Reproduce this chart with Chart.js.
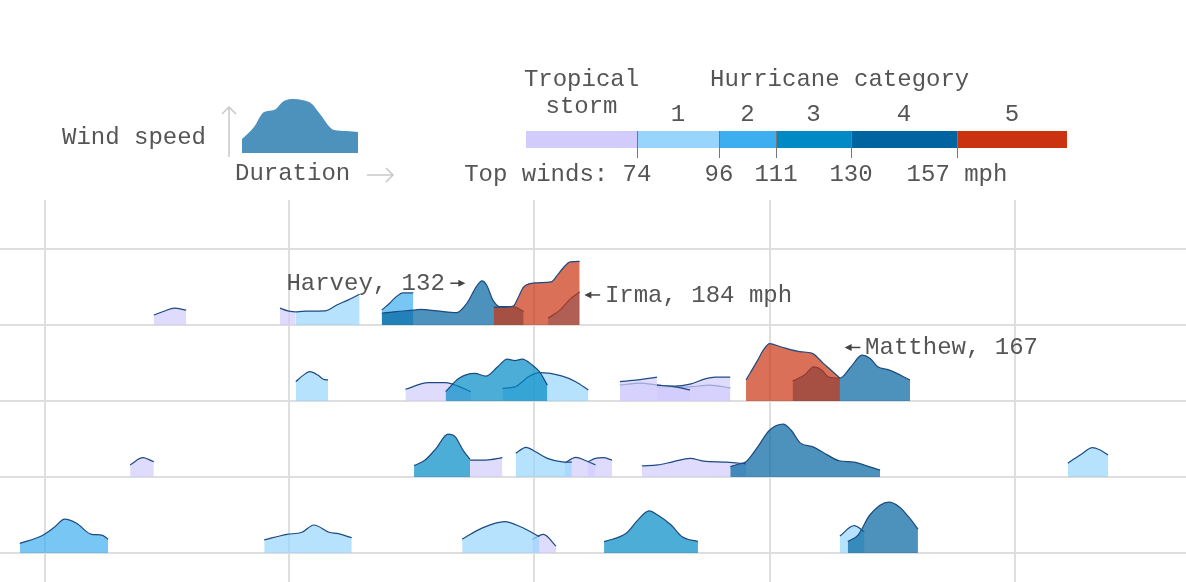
<!DOCTYPE html>
<html><head><meta charset="utf-8">
<script src="https://cdn.jsdelivr.net/npm/chart.js@4"></script>
<style>
html,body{margin:0;padding:0;background:#fff;}
#wrap{position:relative;width:1186px;height:582px;overflow:hidden;font-family:"Liberation Mono","DejaVu Sans Mono",monospace;color:#555;}
.t{position:absolute;font-size:24px;line-height:24px;white-space:nowrap;}
.c{transform:translateX(-50%);}
#main{position:absolute;left:0;top:0;}
#icon{position:absolute;left:242px;top:95px;}
.seg{position:absolute;top:131px;height:17px;}
.tick{position:absolute;top:131px;width:1px;height:27px;background:#777;}
#arrows{position:absolute;left:0;top:0;}
</style></head>
<body>
<div id="wrap">
  <canvas id="main" width="1186" height="582"></canvas>
  <canvas id="icon" width="116" height="58"></canvas>
  <svg id="arrows" width="420" height="200">
    <g stroke="#c8c8c8" stroke-width="1.5" fill="none">
      <line x1="229" y1="107" x2="229" y2="157"/>
      <polyline points="222,114 229,107 236,114"/>
      <line x1="367" y1="175" x2="393" y2="175"/>
      <polyline points="386,168 393,175 386,182"/>
    </g>
  </svg>
  <div class="t" style="left:62px;top:125.6px">Wind speed</div>
  <div class="t" style="left:235px;top:161.6px">Duration</div>
  <div class="t" style="left:710px;top:67.6px">Hurricane category</div>
  <div id="legend"></div>
</div>
<script>
// ---- Data -------------------------------------------------------------
// x: days since July 1 ; y: wind speed (mph)
const categoryNames = ['Tropical storm', '1', '2', '3', '4', '5'];
const categoryColors = ['#d2ccfc', '#97d5fd', '#3daef0', '#008ac5', '#0064a0', '#cb3310'];
const topWindLabels = ['74', '96', '111', '130', '157 mph'];
const monthTicks = [0, 31, 62, 92, 123];   // Jul 1, Aug 1, Sep 1, Oct 1, Nov 1
const years = ['2017', '2016', '2015', '2014'];

const storms2017 = [
  { name: 'Don', cat: 0, pts: [[13.8,29],[15.1,40],[16.4,49],[17.9,43]] },
  { name: 'Emily', cat: 0, pts: [[29.8,49],[30.8,41],[31.8,38]] },
  { name: 'Franklin', cat: 1, pts: [[31.8,38],[33.1,40],[35.5,41],[37.0,58],[38.4,72],[39.9,89]] },
  { name: 'Gert', cat: 2, pts: [[42.7,43],[43.7,63],[44.5,81],[45.4,93],[46.7,93]] },
  { name: 'Harvey', cat: 4, pts: [[42.7,34],[44.5,39],[46.7,43],[47.6,45],[49.7,41],[52.2,36],[53.5,63],[54.7,111],[55.4,128],[56.0,116],[56.8,72],[57.7,53],[59.4,53],[60.7,39]] },
  { name: 'Jose', cat: 2, pts: [[63.8,20],[65.3,43],[66.6,75],[67.8,96]] },
  { name: 'Irma', cat: 5, pts: [[56.9,52],[58.3,52],[59.4,55],[60.1,84],[60.7,110],[62.3,122],[64.2,125],[64.9,142],[65.7,165],[66.6,183],[67.8,184]] }
];
const storms2016 = [
  { name: 'Earl', cat: 1, pts: [[31.8,56],[32.6,72],[33.6,85],[34.6,75],[35.3,63],[35.9,61]] },
  { name: 'Fiona', cat: 0, pts: [[45.7,34],[48.6,53],[50.8,53],[52.4,43],[54.0,27]] },
  { name: 'Gaston', cat: 3, pts: [[50.8,27],[52.5,66],[54.5,80],[55.9,72],[57.4,99],[58.6,121],[59.6,117],[60.5,121],[61.8,104],[62.7,85],[63.7,46]] },
  { name: 'Hermine', cat: 1, pts: [[58.0,37],[59.6,41],[61.3,70],[62.7,82],[65.6,72],[67.3,56],[68.9,32]] },
  { name: 'Ian', cat: 0, pts: [[72.9,56],[75.2,61],[77.6,69]] },
  { name: 'Julia', cat: 0, pts: [[72.9,46],[75.5,52],[77.6,46],[79.9,41],[81.8,32]] },
  { name: 'Karl', cat: 0, pts: [[77.6,46],[79.9,43],[81.8,49],[83.7,64],[85.0,69],[86.9,69]] },
  { name: 'Lisa', cat: 0, pts: [[77.6,40],[81.8,41],[84.3,46],[86.9,38]] },
  { name: 'Nicole', cat: 4, pts: [[94.8,58],[96.3,75],[97.5,99],[98.5,90],[99.4,69],[100.8,66],[102.2,99],[103.6,133],[104.6,124],[105.6,99],[107.0,90],[109.7,61]] },
  { name: 'Matthew', cat: 5, pts: [[88.9,61],[90.4,119],[91.1,148],[91.9,166],[93.3,157],[95.7,143],[97.3,138],[98.7,109],[99.8,87],[100.8,66]] }
];
const storms2015 = [
  { name: 'Claudette', cat: 0, pts: [[10.8,35],[12.4,56],[13.8,44]] },
  { name: 'Danny', cat: 3, pts: [[46.8,33],[48.2,49],[49.6,83],[51.1,124],[52.0,117],[53.0,78],[53.9,51]] },
  { name: 'Erika', cat: 0, pts: [[53.9,49],[55.9,49],[58.0,56]] },
  { name: 'Fred', cat: 1, pts: [[59.7,69],[61.0,86],[62.2,73],[63.7,54],[65.6,44],[66.8,43]] },
  { name: 'Grace', cat: 0, pts: [[65.9,40],[67.3,57],[68.6,47],[69.8,35]] },
  { name: 'Henri', cat: 0, pts: [[68.8,43],[69.8,54],[70.8,56],[71.9,49]] },
  { name: 'Ida', cat: 0, pts: [[75.7,32],[77.7,35],[79.6,44],[81.8,54],[83.5,46],[86.5,43],[88.9,38]] },
  { name: 'Joaquin', cat: 4, pts: [[86.9,30],[87.9,37],[88.9,44],[90.4,88],[91.9,136],[93.6,153],[94.6,136],[95.8,98],[97.3,88],[99.2,64],[100.7,47],[102.6,43],[104.1,33],[105.9,20]] },
  { name: 'Kate', cat: 1, pts: [[129.7,40],[131.6,69],[132.8,85],[133.8,78],[134.8,64]] }
];
const storms2014 = [
  { name: 'Arthur', cat: 2, pts: [[-3.2,28],[-0.4,50],[1.1,73],[2.5,98],[4.0,86],[5.9,54],[7.2,52],[8.0,40]] },
  { name: 'Bertha', cat: 1, pts: [[27.8,38],[30.7,54],[32.6,60],[34.1,81],[36.0,60],[37.2,56],[38.9,44]] },
  { name: 'Cristobal', cat: 1, pts: [[52.9,40],[55.4,72],[58.3,91],[60.3,76],[62.7,47]] },
  { name: 'Dolly', cat: 0, pts: [[61.8,40],[63.2,54],[64.8,20]] },
  { name: 'Edouard', cat: 3, pts: [[70.9,33],[73.7,57],[75.2,96],[76.6,122],[77.7,110],[79.4,81],[80.8,47],[82.8,33]] },
  { name: 'Fay', cat: 1, pts: [[100.8,49],[102.6,79],[103.9,62]] },
  { name: 'Gonzalo', cat: 4, pts: [[101.8,33],[103.1,52],[104.6,110],[107.0,147],[108.3,134],[109.5,105],[110.7,69]] }
];

// annotations: text, row, text anchor [day, mph], align, arrow tail/head [day, mph]
const noteLabels = ['Harvey, 132', 'Irma, 184 mph', 'Matthew, 167'];
const noteRows = [0, 0, 1];
const noteText = [[50.7, 101], [71.0, 67], [104.0, 136]];
const noteAlign = ['right', 'left', 'left'];
const noteArrows = [[[51.4, 121], [53.3, 121]], [[70.4, 87], [68.4, 87]], [[103.4, 155], [101.4, 155]]];

// legend icon shape (duration vs wind speed)
const iconDuration = [0, 12, 22, 32, 42, 52, 60, 70, 78, 92, 105, 116];
const iconWind = [14, 26, 41, 43, 52, 54, 53, 49, 39, 23, 22, 21];

// ---- Helpers ----------------------------------------------------------
const ROW_STEP = 220;
const FONT = '"Liberation Mono","DejaVu Sans Mono",monospace';
function rgba(hex, a) {
  const n = parseInt(hex.slice(1), 16);
  return `rgba(${(n >> 16) & 255},${(n >> 8) & 255},${n & 255},${a})`;
}
const rows = [storms2017, storms2016, storms2015, storms2014];
const rowBase = r => (rows.length - 1 - r) * ROW_STEP;

// ---- Legend (HTML) ----------------------------------------------------
const barEdges = [526, 637, 719, 776, 851, 957, 1067];
const legend = document.getElementById('legend');
function addText(txt, left, top, center) {
  const d = document.createElement('div');
  d.className = 't' + (center ? ' c' : '');
  d.style.left = left + 'px'; d.style.top = top + 'px';
  d.textContent = txt; legend.appendChild(d);
}
categoryColors.forEach((col, i) => {
  const s = document.createElement('div');
  s.className = 'seg';
  s.style.left = barEdges[i] + 'px';
  s.style.width = (barEdges[i + 1] - barEdges[i]) + 'px';
  s.style.background = col;
  legend.appendChild(s);
  const mid = (barEdges[i] + barEdges[i + 1]) / 2;
  if (i === 0) {
    const parts = categoryNames[0].split(' ');
    addText(parts[0], mid, 67.6, true);
    addText(parts[1], mid, 94.9, true);
  } else {
    addText(categoryNames[i], mid, 103.3, true);
  }
});
topWindLabels.forEach((lab, i) => {
  const x = barEdges[i + 1];
  const tk = document.createElement('div');
  tk.className = 'tick'; tk.style.left = (x - 0.5) + 'px';
  legend.appendChild(tk);
  addText(lab, x, 163.3, true);
});
addText('Top winds: ', barEdges[1] - 14.4 - 11 * 14.4, 163.3, false);

// ---- Main chart -------------------------------------------------------
const datasets = rows.flatMap((storms, r) => {
  const base = rowBase(r);
  return storms.map(s => ({
    label: years[r] + ' ' + s.name,
    data: s.pts.map(([d, w]) => ({ x: d, y: base + w })),
    fill: { value: base },
    backgroundColor: rgba(categoryColors[s.cat], 0.7),
    borderColor: '#1d4a80',
    borderWidth: 1.2,
    pointRadius: 0,
    cubicInterpolationMode: 'monotone',
    order: 5 - s.cat
  }));
});

const notesPlugin = {
  id: 'notes',
  afterDatasetsDraw(chart) {
    const { ctx, scales: { x, y } } = chart;
    ctx.save();
    noteLabels.forEach((txt, i) => {
      const base = rowBase(noteRows[i]);
      ctx.font = '24px ' + FONT;
      ctx.fillStyle = '#555';
      ctx.textAlign = noteAlign[i];
      ctx.textBaseline = 'alphabetic';
      ctx.fillText(txt, x.getPixelForValue(noteText[i][0]), y.getPixelForValue(base + noteText[i][1]));
      const [t, h] = noteArrows[i];
      const x1 = x.getPixelForValue(t[0]), y1 = y.getPixelForValue(base + t[1]);
      const x2 = x.getPixelForValue(h[0]), y2 = y.getPixelForValue(base + h[1]);
      const dir = Math.sign(x2 - x1);
      ctx.strokeStyle = '#444'; ctx.fillStyle = '#444'; ctx.lineWidth = 1.5;
      ctx.beginPath(); ctx.moveTo(x1, y1); ctx.lineTo(x2 - dir * 5, y2); ctx.stroke();
      ctx.beginPath(); ctx.moveTo(x2, y2); ctx.lineTo(x2 - dir * 7, y2 - 3.5); ctx.lineTo(x2 - dir * 7, y2 + 3.5); ctx.closePath(); ctx.fill();
    });
    ctx.restore();
  }
};

const gridOpts = { color: '#dedede', lineWidth: 2, drawTicks: false };
new Chart(document.getElementById('main'), {
  type: 'line',
  data: { datasets },
  options: {
    responsive: false, animation: false, devicePixelRatio: 1,
    layout: { padding: { top: 200, left: 0, right: 0, bottom: 0 } },
    plugins: { legend: { display: false }, tooltip: { enabled: false } },
    scales: {
      x: {
        type: 'linear', min: -5.706, max: 144.69,
        grid: gridOpts, border: { display: false },
        ticks: { display: false },
        afterBuildTicks: s => { s.ticks = monthTicks.map(v => ({ value: v })); }
      },
      y: {
        type: 'linear', min: -83.95, max: 1021.9,
        grid: gridOpts, border: { display: false },
        ticks: { display: false },
        afterBuildTicks: s => { s.ticks = years.map((_, i) => ({ value: i * ROW_STEP })).concat([{ value: years.length * ROW_STEP }]); }
      }
    }
  },
  plugins: [notesPlugin]
});

// ---- Legend icon chart -----------------------------------------------
new Chart(document.getElementById('icon'), {
  type: 'line',
  data: { datasets: [{
    data: iconDuration.map((d, i) => ({ x: d, y: iconWind[i] })),
    fill: { value: 0 }, backgroundColor: rgba(categoryColors[4], 0.7),
    borderWidth: 0, pointRadius: 0, cubicInterpolationMode: 'monotone'
  }] },
  options: {
    responsive: false, animation: false, devicePixelRatio: 1,
    layout: { padding: 0 },
    plugins: { legend: { display: false }, tooltip: { enabled: false } },
    scales: { x: { type: 'linear', min: 0, max: 116, display: false }, y: { type: 'linear', min: 0, max: 58, display: false } }
  }
});
</script>
</body></html>
